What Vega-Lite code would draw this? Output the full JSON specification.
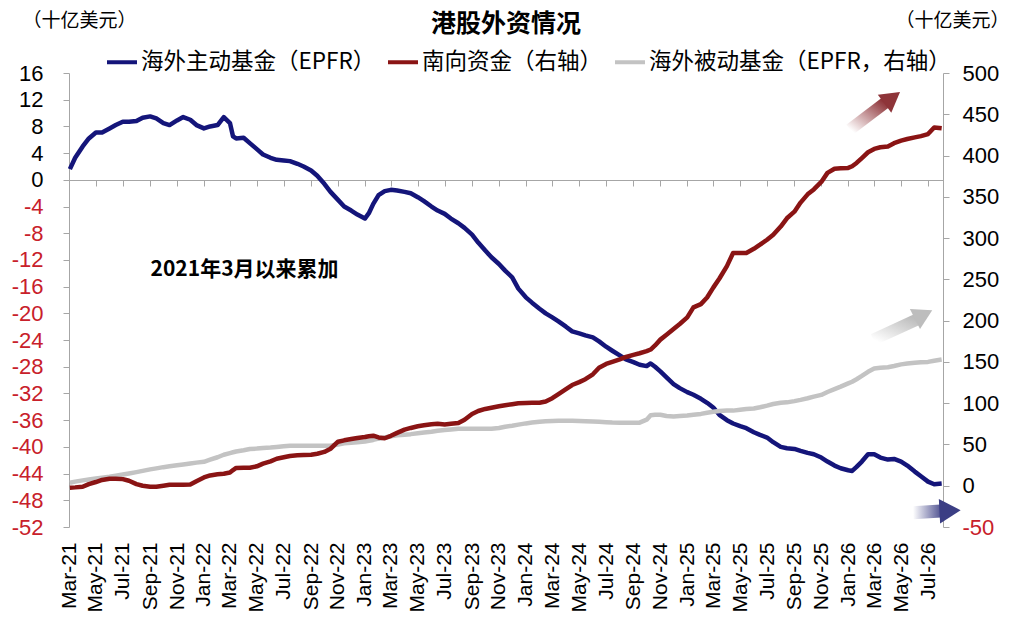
{
  "$schema": "https://vega.github.io/schema/vega-lite/v6.json",
  "description": "港股外资情况",
  "width": 874,
  "height": 454,
  "autosize": "none",
  "padding": {"left": 69, "top": 73, "right": 80, "bottom": 103},
  "background": "#ffffff",
  "config": {
    "view": {"stroke": null},
    "axis": {"labelColor": "#000000", "grid": false, "labelOverlap": false}
  },
  "title": {
    "text": "港股外资情况",
    "font": "Noto Sans CJK SC",
    "fontSize": 25,
    "fontWeight": "bold",
    "color": "#000000",
    "anchor": "middle",
    "frame": "group",
    "offset": -26
  },
  "datasets": {
    "flows": [
      {"d": "2021-03-03", "A": 1.6, "S": -2.4, "P": 3.6},
      {"d": "2021-03-15", "A": 3.3, "S": -2.0, "P": 5.0},
      {"d": "2021-04-01", "A": 5.0, "S": -1.2, "P": 6.5},
      {"d": "2021-04-15", "A": 6.2, "S": 2.0, "P": 7.5},
      {"d": "2021-05-01", "A": 7.1, "S": 4.5, "P": 8.8},
      {"d": "2021-05-15", "A": 7.1, "S": 7.0, "P": 9.8},
      {"d": "2021-06-01", "A": 7.7, "S": 8.5, "P": 11.0},
      {"d": "2021-06-15", "A": 8.2, "S": 8.5, "P": 12.2},
      {"d": "2021-07-01", "A": 8.7, "S": 8.0, "P": 13.5},
      {"d": "2021-07-15", "A": 8.7, "S": 6.0, "P": 14.8},
      {"d": "2021-08-01", "A": 8.8, "S": 2.0, "P": 16.5},
      {"d": "2021-08-15", "A": 9.3, "S": 0.0, "P": 18.0},
      {"d": "2021-09-01", "A": 9.5, "S": -1.2, "P": 19.8},
      {"d": "2021-09-15", "A": 9.2, "S": -1.2, "P": 21.0},
      {"d": "2021-10-01", "A": 8.5, "S": 0.0, "P": 22.5},
      {"d": "2021-10-15", "A": 8.2, "S": 1.2, "P": 23.5},
      {"d": "2021-11-01", "A": 8.9, "S": 1.2, "P": 24.8},
      {"d": "2021-11-15", "A": 9.4, "S": 1.2, "P": 25.8},
      {"d": "2021-12-01", "A": 9.0, "S": 1.5, "P": 27.0},
      {"d": "2021-12-15", "A": 8.2, "S": 5.5, "P": 28.0},
      {"d": "2022-01-01", "A": 7.7, "S": 10.0, "P": 29.0},
      {"d": "2022-01-15", "A": 8.0, "S": 12.5, "P": 31.5},
      {"d": "2022-02-01", "A": 8.2, "S": 13.8, "P": 34.5},
      {"d": "2022-02-15", "A": 9.4, "S": 14.5, "P": 37.5},
      {"d": "2022-03-01", "A": 8.5, "S": 16.0, "P": 39.5},
      {"d": "2022-03-08", "A": 6.5, "S": 19.0, "P": 40.5},
      {"d": "2022-03-15", "A": 6.2, "S": 21.5, "P": 41.5},
      {"d": "2022-04-01", "A": 6.3, "S": 21.8, "P": 43.0},
      {"d": "2022-04-15", "A": 5.5, "S": 21.8, "P": 44.5},
      {"d": "2022-05-01", "A": 4.6, "S": 23.5, "P": 45.0},
      {"d": "2022-05-15", "A": 3.8, "S": 26.7, "P": 45.7},
      {"d": "2022-06-01", "A": 3.3, "S": 29.5, "P": 46.3},
      {"d": "2022-06-15", "A": 3.0, "S": 32.7, "P": 47.0},
      {"d": "2022-07-01", "A": 2.9, "S": 34.5, "P": 47.7},
      {"d": "2022-07-15", "A": 2.8, "S": 36.0, "P": 48.3},
      {"d": "2022-08-01", "A": 2.4, "S": 36.8, "P": 48.5},
      {"d": "2022-08-15", "A": 2.0, "S": 37.2, "P": 48.5},
      {"d": "2022-09-01", "A": 1.4, "S": 37.6, "P": 48.5},
      {"d": "2022-09-15", "A": 0.6, "S": 38.8, "P": 48.5},
      {"d": "2022-10-01", "A": -0.6, "S": 41.0, "P": 48.5},
      {"d": "2022-10-15", "A": -1.8, "S": 44.8, "P": 48.5},
      {"d": "2022-11-01", "A": -3.0, "S": 53.3, "P": 50.0},
      {"d": "2022-11-15", "A": -4.0, "S": 55.0, "P": 51.5},
      {"d": "2022-12-01", "A": -4.6, "S": 56.5, "P": 52.2},
      {"d": "2022-12-15", "A": -5.2, "S": 57.8, "P": 52.8},
      {"d": "2023-01-01", "A": -5.8, "S": 59.0, "P": 53.5},
      {"d": "2023-01-10", "A": -5.0, "S": 60.0, "P": 54.5},
      {"d": "2023-01-20", "A": -3.6, "S": 60.6, "P": 55.5},
      {"d": "2023-02-01", "A": -2.3, "S": 58.5, "P": 57.0},
      {"d": "2023-02-15", "A": -1.7, "S": 57.5, "P": 58.5},
      {"d": "2023-03-01", "A": -1.5, "S": 60.5, "P": 60.0},
      {"d": "2023-03-15", "A": -1.6, "S": 64.0, "P": 61.0},
      {"d": "2023-04-01", "A": -1.8, "S": 68.0, "P": 61.8},
      {"d": "2023-04-15", "A": -2.0, "S": 70.0, "P": 62.5},
      {"d": "2023-05-01", "A": -2.6, "S": 72.0, "P": 63.5},
      {"d": "2023-05-15", "A": -3.2, "S": 73.2, "P": 64.5},
      {"d": "2023-06-01", "A": -4.0, "S": 74.5, "P": 65.5},
      {"d": "2023-06-15", "A": -4.6, "S": 75.2, "P": 66.5},
      {"d": "2023-07-01", "A": -5.1, "S": 74.2, "P": 67.5},
      {"d": "2023-07-15", "A": -5.8, "S": 75.0, "P": 68.2},
      {"d": "2023-08-01", "A": -6.5, "S": 76.0, "P": 69.0},
      {"d": "2023-08-15", "A": -7.2, "S": 80.0, "P": 69.0},
      {"d": "2023-09-01", "A": -8.2, "S": 87.0, "P": 69.0},
      {"d": "2023-09-15", "A": -9.4, "S": 90.5, "P": 69.0},
      {"d": "2023-10-01", "A": -10.6, "S": 93.0, "P": 69.0},
      {"d": "2023-10-15", "A": -11.6, "S": 94.5, "P": 69.0},
      {"d": "2023-11-01", "A": -12.6, "S": 96.2, "P": 70.0},
      {"d": "2023-11-15", "A": -13.6, "S": 97.5, "P": 71.5},
      {"d": "2023-12-01", "A": -14.6, "S": 98.8, "P": 72.7},
      {"d": "2023-12-15", "A": -16.3, "S": 100.0, "P": 74.0},
      {"d": "2024-01-01", "A": -17.6, "S": 100.2, "P": 75.5},
      {"d": "2024-01-15", "A": -18.4, "S": 100.4, "P": 76.5},
      {"d": "2024-02-01", "A": -19.3, "S": 100.5, "P": 77.5},
      {"d": "2024-02-15", "A": -20.0, "S": 102.0, "P": 78.0},
      {"d": "2024-03-01", "A": -20.6, "S": 106.0, "P": 78.5},
      {"d": "2024-03-15", "A": -21.2, "S": 111.0, "P": 78.8},
      {"d": "2024-04-01", "A": -22.0, "S": 117.0, "P": 78.8},
      {"d": "2024-04-15", "A": -22.7, "S": 122.0, "P": 78.8},
      {"d": "2024-05-01", "A": -23.0, "S": 125.5, "P": 78.5},
      {"d": "2024-05-15", "A": -23.3, "S": 129.0, "P": 78.2},
      {"d": "2024-06-01", "A": -23.6, "S": 135.0, "P": 77.8},
      {"d": "2024-06-15", "A": -24.2, "S": 143.0, "P": 77.5},
      {"d": "2024-07-01", "A": -25.0, "S": 147.5, "P": 77.0},
      {"d": "2024-07-15", "A": -25.6, "S": 150.0, "P": 76.6},
      {"d": "2024-08-01", "A": -26.3, "S": 153.0, "P": 76.4},
      {"d": "2024-08-15", "A": -26.9, "S": 156.0, "P": 76.4},
      {"d": "2024-09-01", "A": -27.3, "S": 158.5, "P": 76.4},
      {"d": "2024-09-15", "A": -27.7, "S": 160.5, "P": 76.4},
      {"d": "2024-10-01", "A": -27.9, "S": 163.0, "P": 80.0},
      {"d": "2024-10-10", "A": -27.5, "S": 165.0, "P": 85.5},
      {"d": "2024-10-20", "A": -28.0, "S": 170.0, "P": 86.0},
      {"d": "2024-11-01", "A": -28.7, "S": 177.0, "P": 86.0},
      {"d": "2024-11-15", "A": -29.6, "S": 183.0, "P": 84.5},
      {"d": "2024-12-01", "A": -30.6, "S": 190.0, "P": 84.0},
      {"d": "2024-12-15", "A": -31.2, "S": 196.0, "P": 84.5},
      {"d": "2025-01-01", "A": -31.8, "S": 204.0, "P": 85.0},
      {"d": "2025-01-15", "A": -32.2, "S": 216.0, "P": 86.0},
      {"d": "2025-02-01", "A": -32.8, "S": 220.0, "P": 87.0},
      {"d": "2025-02-15", "A": -33.4, "S": 228.0, "P": 88.5},
      {"d": "2025-03-01", "A": -34.1, "S": 240.0, "P": 89.7},
      {"d": "2025-03-15", "A": -35.2, "S": 251.0, "P": 90.5},
      {"d": "2025-04-01", "A": -36.0, "S": 266.0, "P": 91.0},
      {"d": "2025-04-15", "A": -36.5, "S": 282.0, "P": 91.0},
      {"d": "2025-05-01", "A": -36.9, "S": 282.0, "P": 92.0},
      {"d": "2025-05-15", "A": -37.2, "S": 282.0, "P": 93.0},
      {"d": "2025-06-01", "A": -37.8, "S": 287.0, "P": 93.5},
      {"d": "2025-06-15", "A": -38.2, "S": 292.0, "P": 95.0},
      {"d": "2025-07-01", "A": -38.6, "S": 298.0, "P": 97.0},
      {"d": "2025-07-15", "A": -39.3, "S": 304.0, "P": 99.0},
      {"d": "2025-08-01", "A": -40.0, "S": 314.0, "P": 100.5},
      {"d": "2025-08-15", "A": -40.2, "S": 324.0, "P": 101.0},
      {"d": "2025-09-01", "A": -40.3, "S": 332.0, "P": 102.5},
      {"d": "2025-09-15", "A": -40.6, "S": 343.0, "P": 104.0},
      {"d": "2025-10-01", "A": -40.9, "S": 353.0, "P": 106.0},
      {"d": "2025-10-15", "A": -41.1, "S": 359.0, "P": 108.0},
      {"d": "2025-11-01", "A": -41.6, "S": 368.0, "P": 110.0},
      {"d": "2025-11-15", "A": -42.2, "S": 379.0, "P": 113.5},
      {"d": "2025-12-01", "A": -42.8, "S": 384.0, "P": 117.0},
      {"d": "2025-12-15", "A": -43.2, "S": 384.5, "P": 120.0},
      {"d": "2026-01-01", "A": -43.5, "S": 385.0, "P": 124.0},
      {"d": "2026-01-10", "A": -43.6, "S": 387.0, "P": 126.0},
      {"d": "2026-01-20", "A": -43.0, "S": 391.0, "P": 129.0},
      {"d": "2026-02-01", "A": -42.2, "S": 397.0, "P": 133.0},
      {"d": "2026-02-15", "A": -41.1, "S": 404.0, "P": 138.0},
      {"d": "2026-03-01", "A": -41.1, "S": 408.0, "P": 142.0},
      {"d": "2026-03-15", "A": -41.6, "S": 410.0, "P": 143.0},
      {"d": "2026-04-01", "A": -41.9, "S": 411.0, "P": 143.5},
      {"d": "2026-04-15", "A": -41.8, "S": 415.0, "P": 145.0},
      {"d": "2026-05-01", "A": -42.2, "S": 418.0, "P": 147.0},
      {"d": "2026-05-15", "A": -42.8, "S": 420.0, "P": 148.0},
      {"d": "2026-06-01", "A": -43.7, "S": 422.0, "P": 149.0},
      {"d": "2026-06-15", "A": -44.4, "S": 423.5, "P": 149.5},
      {"d": "2026-07-01", "A": -45.2, "S": 426.0, "P": 150.0},
      {"d": "2026-07-15", "A": -45.6, "S": 434.0, "P": 151.5},
      {"d": "2026-08-01", "A": -45.5, "S": 433.0, "P": 153.0}
    ],
    "shafts": [
      {"k": "r", "d": "2026-01-05", "v": 431.5},
      {"k": "r", "d": "2026-03-26", "v": 464},
      {"k": "g", "d": "2026-02-27", "v": 177},
      {"k": "g", "d": "2026-06-05", "v": 201},
      {"k": "b", "d": "2026-05-28", "v": -32.7},
      {"k": "b", "d": "2026-08-08", "v": -30.3}
    ],
    "heads": [
      {"k": "r", "d": "2026-04-11", "v": 469.8},
      {"k": "g", "d": "2026-06-21", "v": 207.3},
      {"k": "b", "d": "2026-08-20", "v": -30.3}
    ]
  },
  "data": {"name": "flows"},
  "layer": [
    {
      "layer": [
        {
          "transform": [{"fold": ["A"], "as": ["k", "v"]}],
          "mark": {"type": "line", "strokeWidth": 4.5, "strokeJoin": "round"},
          "encoding": {
            "x": {
              "field": "d",
              "type": "temporal",
              "scale": {
                "type": "utc",
                "domain": [
                  {"year": 2021, "month": 3, "date": 1, "utc": true},
                  {"year": 2026, "month": 8, "date": 4, "utc": true}
                ]
              },
              "axis": {
                "orient": "bottom",
                "domain": false,
                "ticks": false,
                "title": null,
                "format": "%b-%y",
                "tickCount": {"interval": "month", "step": 2},
                "labelAngle": -90,
                "labelAlign": "right",
                "labelBaseline": "middle",
                "labelPadding": 15,
                "labelFont": "Liberation Sans",
                "labelFontSize": 21,
                "labelOverlap": false,
                "labelFlush": false,
                "labelBound": false
              }
            },
            "y": {
              "field": "v",
              "type": "quantitative",
              "scale": {"domain": [-52, 16], "nice": false, "zero": false},
              "axis": {
                "orient": "left",
                "values": [-52, -48, -44, -40, -36, -32, -28, -24, -20, -16, -12, -8, -4, 0, 4, 8, 12, 16],
                "tickCount": 30,
                "domainColor": "#a6a6a6",
                "tickColor": "#a6a6a6",
                "tickSize": 6,
                "labelFont": "Liberation Sans",
                "labelFontSize": 22,
                "labelPadding": 20,
                "labelOverlap": false,
                "labelBound": false,
                "labelFlush": false,
                "labelExpr": "'' + datum.value",
                "labelColor": {"condition": {"test": "datum.value < 0", "value": "#c8202a"}, "value": "#000000"},
                "title": "（十亿美元）",
                "titleAngle": 0,
                "titleAlign": "left",
                "titleBaseline": "middle",
                "titleX": -47,
                "titleY": -53,
                "titleFont": "Noto Sans CJK SC",
                "titleFontSize": 19,
                "titleFontWeight": "normal",
                "titleColor": "#000000"
              }
            },
            "color": {
              "field": "k",
              "type": "nominal",
              "scale": {"domain": ["A", "S", "P"], "range": ["#14157a", "#8a1414", "#c3c3c3"]},
              "legend": {
                "orient": "none",
                "legendX": 36,
                "legendY": -28,
                "direction": "horizontal",
                "title": null,
                "symbolType": "stroke",
                "symbolStrokeWidth": 4,
                "symbolSize": 900,
                "labelFont": "Noto Sans CJK SC",
                "labelFontSize": 22.5,
                "labelColor": "#000000",
                "labelLimit": 400,
                "labelOffset": 2,
                "columnPadding": 4,
                "labelExpr": "datum.label == 'A' ? '海外主动基金（EPFR）' : datum.label == 'S' ? '南向资金（右轴）' : '海外被动基金（EPFR，右轴）'"
              }
            }
          }
        },
        {
          "data": {"values": [{"d": "2021-09-02", "v": -13.5, "t": "2021年3月以来累加"}]},
          "mark": {"type": "text", "align": "left", "baseline": "middle", "font": "Noto Sans CJK SC", "fontSize": 21, "fontWeight": "bold", "color": "#000000"},
          "encoding": {
            "x": {"field": "d", "type": "temporal"},
            "y": {"field": "v", "type": "quantitative"},
            "text": {"field": "t"}
          }
        }
      ]
    },
    {
      "layer": [
        {
          "transform": [{"fold": ["P", "S"], "as": ["k", "v"]}],
          "mark": {"type": "line", "strokeWidth": 4.5, "strokeJoin": "round"},
          "encoding": {
            "x": {
              "field": "d",
              "type": "temporal",
              "scale": {
                "type": "utc",
                "domain": [
                  {"year": 2021, "month": 3, "date": 1, "utc": true},
                  {"year": 2026, "month": 8, "date": 4, "utc": true}
                ]
              },
              "axis": {
                "orient": "bottom",
                "offset": -347,
                "labels": false,
                "title": null,
                "tickCount": {"interval": "month", "step": 2},
                "tickSize": 6,
                "tickColor": "#a6a6a6",
                "domainColor": "#a6a6a6"
              }
            },
            "y": {
              "field": "v",
              "type": "quantitative",
              "scale": {"domain": [-50, 500], "nice": false, "zero": false},
              "axis": {
                "orient": "right",
                "values": [-50, 0, 50, 100, 150, 200, 250, 300, 350, 400, 450, 500],
                "tickCount": 30,
                "domainColor": "#a6a6a6",
                "tickColor": "#a6a6a6",
                "tickSize": 6,
                "labelFont": "Liberation Sans",
                "labelFontSize": 22,
                "labelPadding": 13,
                "labelOverlap": false,
                "labelBound": false,
                "labelFlush": false,
                "labelExpr": "'' + datum.value",
                "labelColor": {"condition": {"test": "datum.value < 0", "value": "#c8202a"}, "value": "#000000"},
                "title": "（十亿美元）",
                "titleAngle": 0,
                "titleAlign": "left",
                "titleBaseline": "middle",
                "titleX": -48,
                "titleY": -53,
                "titleFont": "Noto Sans CJK SC",
                "titleFontSize": 19,
                "titleFontWeight": "normal",
                "titleColor": "#000000"
              }
            },
            "color": {
              "field": "k",
              "type": "nominal",
              "scale": {"domain": ["A", "S", "P"], "range": ["#14157a", "#8a1414", "#c3c3c3"]}
            }
          }
        },
        {
          "data": {"name": "shafts"},
          "transform": [{"filter": "datum.k == 'r'"}],
          "mark": {
            "type": "line",
            "strokeWidth": 12,
            "strokeCap": "butt",
            "stroke": {"gradient": "linear", "x1": 0, "y1": 1, "x2": 1, "y2": 0, "stops": [{"offset": 0, "color": "#ffffff"}, {"offset": 1, "color": "#8e3439"}]}
          },
          "encoding": {"x": {"field": "d", "type": "temporal"}, "y": {"field": "v", "type": "quantitative"}}
        },
        {
          "data": {"name": "heads"},
          "transform": [{"filter": "datum.k == 'r'"}],
          "mark": {"type": "point", "shape": "triangle-right", "filled": true, "fill": "#8e3439", "opacity": 1, "strokeWidth": 0, "size": 500, "angle": 323},
          "encoding": {"x": {"field": "d", "type": "temporal"}, "y": {"field": "v", "type": "quantitative"}}
        },
        {
          "data": {"name": "shafts"},
          "transform": [{"filter": "datum.k == 'g'"}],
          "mark": {
            "type": "line",
            "strokeWidth": 12,
            "strokeCap": "butt",
            "stroke": {"gradient": "linear", "x1": 0, "y1": 1, "x2": 1, "y2": 0, "stops": [{"offset": 0, "color": "#ffffff"}, {"offset": 1, "color": "#bdbdbd"}]}
          },
          "encoding": {"x": {"field": "d", "type": "temporal"}, "y": {"field": "v", "type": "quantitative"}}
        },
        {
          "data": {"name": "heads"},
          "transform": [{"filter": "datum.k == 'g'"}],
          "mark": {"type": "point", "shape": "triangle-right", "filled": true, "fill": "#bdbdbd", "opacity": 1, "strokeWidth": 0, "size": 500, "angle": 333},
          "encoding": {"x": {"field": "d", "type": "temporal"}, "y": {"field": "v", "type": "quantitative"}}
        },
        {
          "data": {"name": "shafts"},
          "transform": [{"filter": "datum.k == 'b'"}],
          "mark": {
            "type": "line",
            "strokeWidth": 13,
            "strokeCap": "butt",
            "stroke": {"gradient": "linear", "x1": 0, "y1": 0, "x2": 1, "y2": 0, "stops": [{"offset": 0, "color": "#ffffff"}, {"offset": 1, "color": "#3b3e84"}]}
          },
          "encoding": {"x": {"field": "d", "type": "temporal"}, "y": {"field": "v", "type": "quantitative"}}
        },
        {
          "data": {"name": "heads"},
          "transform": [{"filter": "datum.k == 'b'"}],
          "mark": {"type": "point", "shape": "triangle-right", "filled": true, "fill": "#3b3e84", "opacity": 1, "strokeWidth": 0, "size": 600, "angle": 357},
          "encoding": {"x": {"field": "d", "type": "temporal"}, "y": {"field": "v", "type": "quantitative"}}
        }
      ]
    }
  ],
  "resolve": {
    "scale": {"x": "independent", "y": "independent"},
    "axis": {"x": "independent", "y": "independent"}
  }
}
